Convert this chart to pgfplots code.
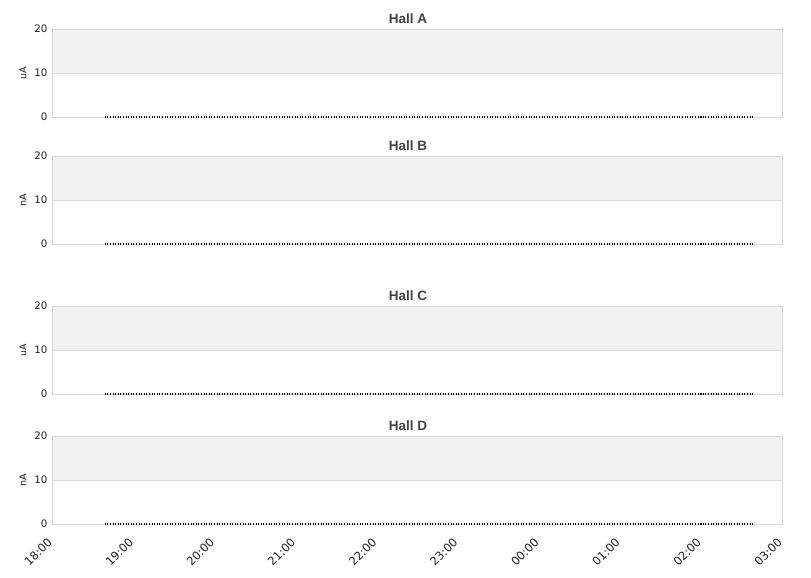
\documentclass[border=0pt]{standalone}
\usepackage{pgfplots}
\pgfplotsset{compat=1.18}
\usepackage{fontspec}
\setmainfont{DejaVu Sans}
\newfontfamily\titlefont{Liberation Sans}
\definecolor{band}{HTML}{F2F2F2}
\definecolor{gridc}{HTML}{DDDDDD}
\definecolor{framec}{HTML}{D8D8D8}
\definecolor{titlec}{HTML}{444444}
\definecolor{tickc}{HTML}{222222}

\pgfplotsset{
  hall/.style={
    scale only axis, width=730pt, height=88pt, anchor=south west,
    xmin=0, xmax=9, ymin=0, ymax=20,
    xtick={0,...,9}, ytick={0,10,20},
    major tick length=0pt,
    ymajorgrids, grid style={gridc, line width=0.8pt},
    axis line style={framec, line width=0.8pt},
    set layers, clip=false,
    tick label style={font=\fontsize{10.3}{12}\selectfont, text=tickc},
    /pgf/number format/assume math mode=true,
    yticklabel style={xshift=-1pt},
    ylabel style={font=\fontsize{9.5}{11}\selectfont, text=tickc, at={(axis description cs:0,0.5)}, anchor=center, yshift=29pt},
  },
  notx/.style={xticklabels={}},
  zero/.style={black, line width=2pt, dash pattern=on 1pt off 1.6pt, mark=none},
}

\newcommand{\bandfill}{%
  \begin{pgfonlayer}{axis background}
    \fill[band] (axis cs:0,10) rectangle (axis cs:9,20);
  \end{pgfonlayer}}

\begin{document}
\begin{tikzpicture}

\begin{axis}[hall, notx, at={(52pt,461pt)}, ylabel={uA}]
  \bandfill
  \addplot[zero] coordinates {(0.65,0) (1,0) (2,0) (3,0) (4,0) (5,0) (6,0) (7,0) (8,0) (8.64,0)};
\end{axis}
\node[font=\titlefont\bfseries\fontsize{13.5}{15}\selectfont, text=titlec] at (408pt,559pt) {Hall A};

\begin{axis}[hall, notx, at={(52pt,334pt)}, ylabel={nA}]
  \bandfill
  \addplot[zero] coordinates {(0.65,0) (1,0) (2,0) (3,0) (4,0) (5,0) (6,0) (7,0) (8,0) (8.64,0)};
\end{axis}
\node[font=\titlefont\bfseries\fontsize{13.5}{15}\selectfont, text=titlec] at (408pt,432pt) {Hall B};

\begin{axis}[hall, notx, at={(52pt,184pt)}, ylabel={uA}]
  \bandfill
  \addplot[zero] coordinates {(0.65,0) (1,0) (2,0) (3,0) (4,0) (5,0) (6,0) (7,0) (8,0) (8.64,0)};
\end{axis}
\node[font=\titlefont\bfseries\fontsize{13.5}{15}\selectfont, text=titlec] at (408pt,282pt) {Hall C};

\begin{axis}[hall, at={(52pt,54pt)}, ylabel={nA},
  xticklabels={18:00,19:00,20:00,21:00,22:00,23:00,00:00,01:00,02:00,03:00},
  xticklabel style={font=\fontsize{11.5}{13}\selectfont, rotate=45, anchor=east, inner sep=0pt, xshift=-12.7pt, yshift=-9.9pt}]
  \bandfill
  \addplot[zero] coordinates {(0.65,0) (1,0) (2,0) (3,0) (4,0) (5,0) (6,0) (7,0) (8,0) (8.64,0)};
\end{axis}
\node[font=\titlefont\bfseries\fontsize{13.5}{15}\selectfont, text=titlec] at (408pt,152pt) {Hall D};
\path (0,0) rectangle (811pt,578pt);
\end{tikzpicture}
\end{document}
